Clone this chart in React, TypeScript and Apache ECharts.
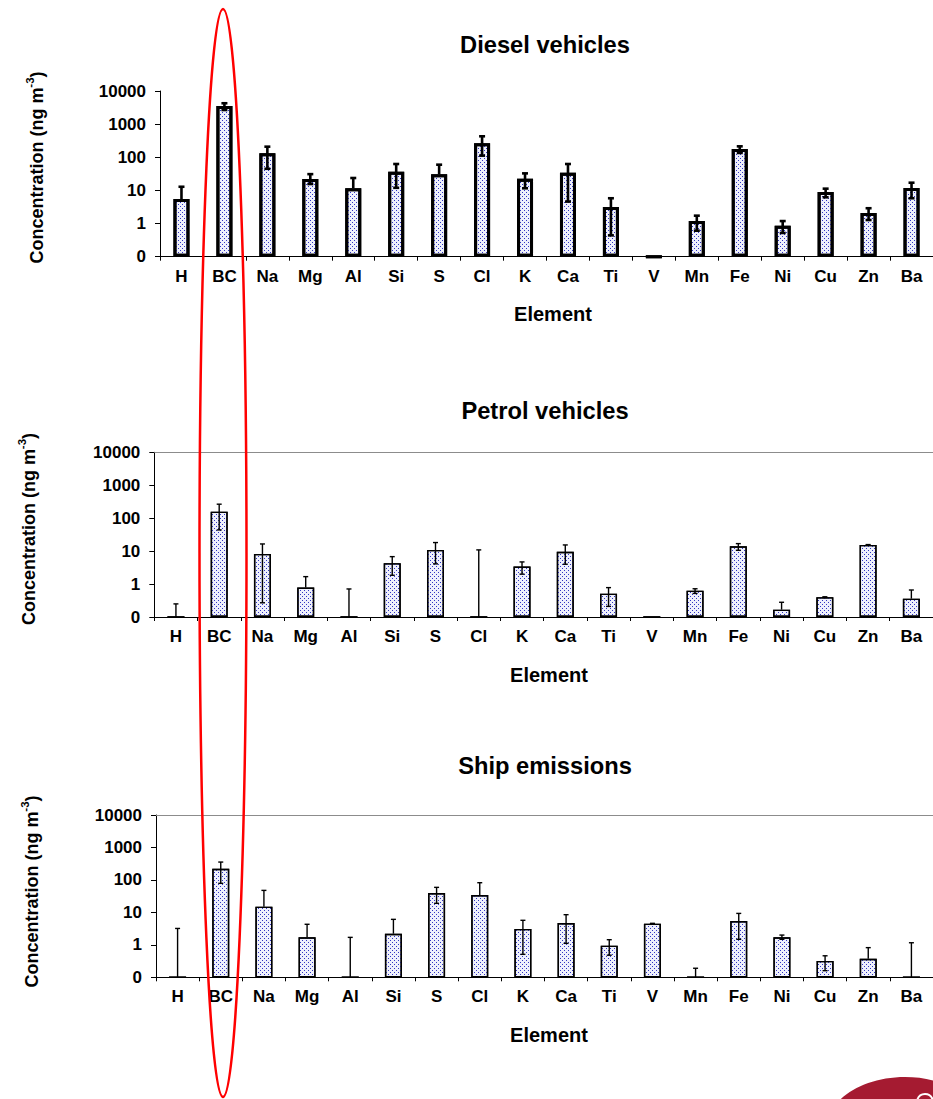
import React, { useEffect, useRef } from 'react';
import * as echarts from 'echarts';

// ---------- data ----------
const categories = ['H', 'BC', 'Na', 'Mg', 'Al', 'Si', 'S', 'Cl', 'K', 'Ca', 'Ti', 'V', 'Mn', 'Fe', 'Ni', 'Cu', 'Zn', 'Ba'];

const dieselValues = [5.5, 3520, 132, 22, 11.6, 36.7, 30.6, 265, 22.6, 34.3, 3.16, 0, 1.19, 178, 0.86, 8.96, 2.1, 11.8];
const dieselUpper = [12.9, 4270, 209, 31, 23.7, 62.7, 59.8, 430, 32.7, 62.7, 5.8, null, 1.73, 214, 1.19, 11.3, 2.9, 17.1];
const dieselLower = [null, 2670, 45, 15.6, null, 12, null, 112, 11.6, 4.6, 0.44, null, 0.61, 135, 0.52, 6.2, 1.28, 5.8];

const petrolValues = [0, 158, 8.2, 0.78, 0, 4.3, 10.9, 0, 3.4, 9.5, 0.51, 0, 0.63, 14, 0.167, 0.4, 15.4, 0.36];
const petrolUpper = [0.25, 266, 16.5, 1.68, 0.71, 6.8, 18.2, 10.9, 4.7, 15.4, 0.78, null, 0.72, 16.9, 0.28, 0.41, 15.8, 0.66];
const petrolLower = [null, 44, 0.27, null, null, 1.85, 4.1, null, 2.0, 4.0, 0.21, null, 0.52, 10.6, null, 0.39, 15.0, null];

const shipValues = [0, 221, 15, 1.7, 0, 2.2, 39.4, 34.3, 3.1, 4.7, 0.94, 4.5, 0, 5.4, 1.7, 0.32, 0.37, 0];
const shipUpper = [3.2, 355, 47.6, 4.3, 1.7, 6.1, 59, 82, 5.7, 8.5, 1.44, 4.6, 0.19, 9.3, 2.0, 0.46, 0.82, 1.16];
const shipLower = [null, 78.5, null, null, null, null, 19, null, 0.51, 1.11, 0.48, 4.4, null, 1.48, 1.48, 0.16, null, null];

const panelTitles = ['Diesel vehicles', 'Petrol vehicles', 'Ship emissions'];
const xAxisName = 'Element';
const yAxisName = 'Concentration (ng m';
const yAxisNameSup = '-3';

const Y_MIN = 0.1;
const Y_MAX = 10000;

// ---------- layout ----------
const FONT = '"Liberation Sans", Arial, Helvetica, sans-serif';

const panels = [
  {
    values: dieselValues, upper: dieselUpper, lower: dieselLower, title: panelTitles[0],
    grid: { left: 160, top: 91, height: 165.7, width: 783 },
    border: 3, errWidth: 2.6, cap: 3, barWidth: 16, topLine: false,
    titleY: 45, nameX: 553, nameY: 314, yNameX: 35, yNameY: 167.5,
  },
  {
    values: petrolValues, upper: petrolUpper, lower: petrolLower, title: panelTitles[1],
    grid: { left: 154.3, top: 452.3, height: 164.7, width: 783 },
    border: 1.4, errWidth: 1.4, cap: 2.5, barWidth: 17, topLine: true,
    titleY: 411, nameX: 549, nameY: 675, yNameX: 26.7, yNameY: 529,
  },
  {
    values: shipValues, upper: shipUpper, lower: shipLower, title: panelTitles[2],
    grid: { left: 156, top: 815, height: 162.3, width: 783 },
    border: 1.4, errWidth: 1.4, cap: 2.5, barWidth: 17, topLine: true,
    titleY: 766, nameX: 549, nameY: 1035, yNameX: 29.7, yNameY: 891.5,
  },
];

function buildOption() {
  const grid: any[] = [];
  const xAxis: any[] = [];
  const yAxis: any[] = [];
  const series: any[] = [];
  const graphic: any[] = [];

  panels.forEach((p, gi) => {
    grid.push({ ...p.grid });
    xAxis.push({
      type: 'category',
      gridIndex: gi,
      data: categories,
      axisLine: { show: true, lineStyle: { color: '#000', width: 1 } },
      axisTick: { show: true, length: 4, lineStyle: { color: '#000' } },
      axisLabel: {
        interval: 0, fontSize: 17, fontWeight: 'bold', color: '#000', fontFamily: FONT, margin: 11,
      },
      splitLine: { show: false },
    });
    yAxis.push({
      type: 'log',
      logBase: 10,
      gridIndex: gi,
      min: Y_MIN,
      max: Y_MAX,
      startValue: Y_MIN,
      axisLine: { show: true, lineStyle: { color: '#000', width: 1 } },
      axisTick: { show: true, length: 5, lineStyle: { color: '#000' } },
      splitLine: { show: false },
      axisLabel: {
        fontSize: 17, fontWeight: 'bold', color: '#000', fontFamily: FONT, margin: 14,
        formatter: (v: number) => (v < 1 ? '0' : String(Math.round(v))),
      },
    });
  });

  // top border lines for panels 2 & 3
  panels.forEach((p, gi) => {
    if (!p.topLine) return;
    xAxis.push({
      type: 'category',
      gridIndex: gi,
      position: 'top',
      data: categories,
      axisLine: { show: true, lineStyle: { color: '#8c8c8c', width: 1.2 } },
      axisTick: { show: false },
      axisLabel: { show: false },
      splitLine: { show: false },
    });
  });

  panels.forEach((p, gi) => {
    series.push({
      type: 'bar',
      xAxisIndex: gi,
      yAxisIndex: gi,
      barWidth: p.barWidth,
      data: p.values.map((v) => (v > 0 ? v : Y_MIN)),
      itemStyle: {
        color: '#eef0fc',
        borderColor: '#000',
        borderWidth: p.border,
        decal: {
          symbol: 'rect',
          symbolSize: 1,
          color: '#3236c2',
          dashArrayX: [[1, 3], [0, 2, 1, 1]],
          dashArrayY: [1, 1],
          rotation: 0,
        },
      },
      z: 2,
    });
    series.push({
      type: 'custom',
      xAxisIndex: gi,
      yAxisIndex: gi,
      z: 5,
      data: categories.map((c, i) => [
        i,
        p.upper[i] == null ? '-' : p.upper[i],
        p.lower[i] == null ? '-' : p.lower[i],
        p.values[i] > 0 ? p.values[i] : Y_MIN,
      ]),
      renderItem: (params: any, api: any) => {
        const x = api.value(0);
        const hi = api.value(1);
        const lo = api.value(2);
        const base = api.value(3);
        if (hi == null || isNaN(hi)) return null;
        const hasLo = !(lo == null || isNaN(lo));
        const top = api.coord([x, hi]);
        const bot = api.coord([x, hasLo ? lo : base]);
        const st = { stroke: '#000', lineWidth: p.errWidth };
        const children: any[] = [
          { type: 'line', shape: { x1: top[0], y1: top[1], x2: bot[0], y2: bot[1] }, style: st },
          { type: 'line', shape: { x1: top[0] - p.cap, y1: top[1], x2: top[0] + p.cap, y2: top[1] }, style: st },
        ];
        if (hasLo) {
          children.push({
            type: 'line', shape: { x1: bot[0] - p.cap, y1: bot[1], x2: bot[0] + p.cap, y2: bot[1] }, style: st,
          });
        }
        return { type: 'group', children };
      },
    });

    graphic.push({
      type: 'text', x: 545, y: p.titleY, z: 50,
      style: {
        text: p.title, fontSize: 23.7, fontWeight: 'bold', fontFamily: FONT, fill: '#000',
        align: 'center', verticalAlign: 'middle',
      },
    });
    graphic.push({
      type: 'text', x: p.nameX, y: p.nameY, z: 50,
      style: {
        text: xAxisName, fontSize: 20, fontWeight: 'bold', fontFamily: FONT, fill: '#000',
        align: 'center', verticalAlign: 'middle',
      },
    });
    graphic.push({
      type: 'text', x: p.yNameX, y: p.yNameY, rotation: Math.PI / 2, z: 50,
      style: {
        text: `{a|${yAxisName}}{b|${yAxisNameSup}}{a|)}`,
        align: 'center', verticalAlign: 'middle',
        rich: {
          a: { fontSize: 18, fontWeight: 'bold', fontFamily: FONT, fill: '#000', lineHeight: 22, verticalAlign: 'bottom' },
          b: { fontSize: 11.5, fontWeight: 'bold', fontFamily: FONT, fill: '#000', lineHeight: 22, verticalAlign: 'top' },
        },
      },
    });
  });

  // red highlight ellipse around BC
  graphic.push({
    type: 'ellipse', z: 100,
    shape: { cx: 223, cy: 553, rx: 23.5, ry: 544 },
    style: { fill: 'none', stroke: '#ff0000', lineWidth: 2.5 },
  });
  // partial logo at the bottom-right corner
  graphic.push({
    type: 'ellipse', z: 100,
    shape: { cx: 905, cy: 1128, rx: 78, ry: 51 },
    style: { fill: '#a51b31' },
  });
  graphic.push({
    type: 'arc', z: 101,
    shape: { cx: 925, cy: 1102, r: 8, startAngle: Math.PI * 1.1, endAngle: Math.PI * 1.9 },
    style: { stroke: '#ffffff', lineWidth: 2, fill: 'none' },
  });

  return {
    animation: false,
    backgroundColor: '#fff',
    grid,
    xAxis,
    yAxis,
    series,
    graphic,
  };
}

export default function App() {
  const ref = useRef<HTMLDivElement>(null);
  useEffect(() => {
    document.body.style.margin = '0';
    const chart = echarts.init(ref.current as HTMLDivElement, null, { renderer: 'svg' });
    chart.setOption(buildOption() as any);
    return () => chart.dispose();
  }, []);
  return <div ref={ref} style={{ width: 933, height: 1099 }} />;
}
